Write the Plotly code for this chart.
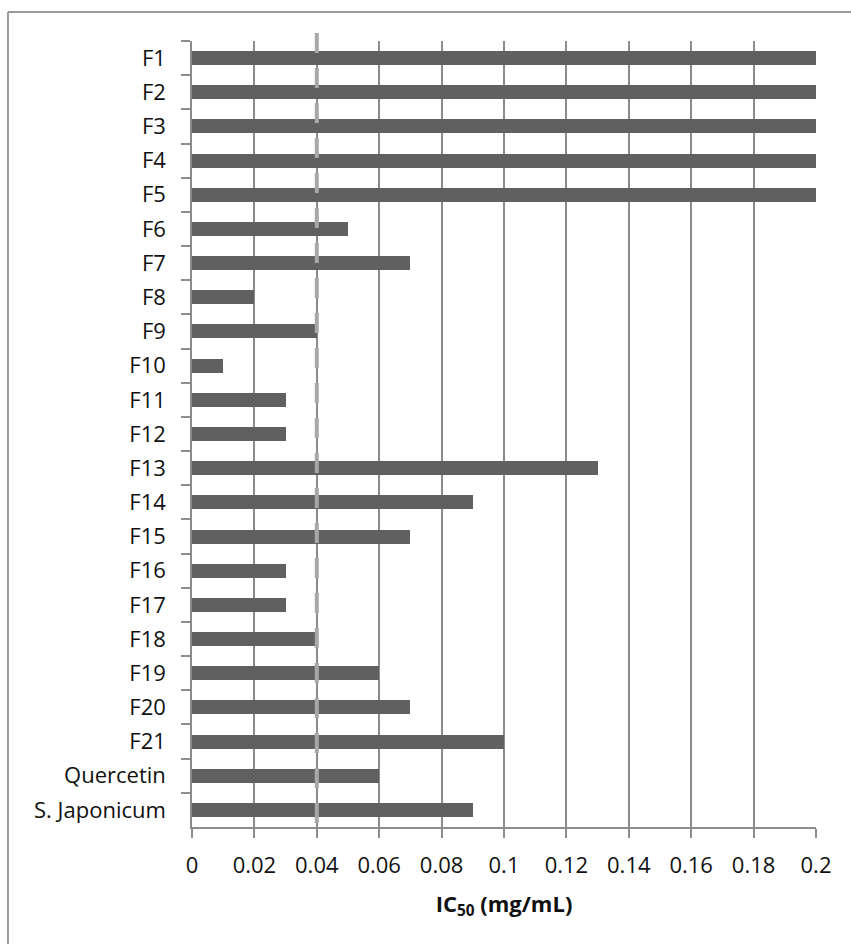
import plotly.graph_objects as go

categories = ["F1", "F2", "F3", "F4", "F5", "F6", "F7", "F8", "F9", "F10",
              "F11", "F12", "F13", "F14", "F15", "F16", "F17", "F18", "F19",
              "F20", "F21", "Quercetin", "S. Japonicum"]
ic50_values = [0.2, 0.2, 0.2, 0.2, 0.2, 0.05, 0.07, 0.02, 0.04, 0.01,
               0.03, 0.03, 0.13, 0.09, 0.07, 0.03, 0.03, 0.04, 0.06,
               0.07, 0.10, 0.06, 0.09]
reference_line = 0.04
x_tickvals = [0, 0.02, 0.04, 0.06, 0.08, 0.1, 0.12, 0.14, 0.16, 0.18, 0.2]
x_ticktext = ["0", "0.02", "0.04", "0.06", "0.08", "0.1", "0.12", "0.14", "0.16", "0.18", "0.2"]

FONT = "Open Sans"
fig = go.Figure()
fig.add_trace(go.Bar(
    x=ic50_values, y=categories, orientation="h",
    marker=dict(color="#606060", line=dict(width=0)),
    width=0.41,
))

# light gray dashed reference line
fig.add_shape(type="line", xref="x", yref="paper",
              x0=reference_line, x1=reference_line, y0=1.0102, y1=-0.014,
              line=dict(color="#a8a8a8", width=4, dash="20px,15px"), layer="above")

# outer chart border (only left and top edges fall inside the picture)
border = dict(color="#9a9a9a", width=2)
fig.add_shape(type="line", xref="paper", yref="paper",
              x0=-0.2949, x1=-0.2949, y0=1.0369, y1=-0.2, line=border, layer="below")
fig.add_shape(type="line", xref="paper", yref="paper",
              x0=-0.2949, x1=1.06, y0=1.0369, y1=1.0369, line=border, layer="below")

fig.update_layout(
    width=851, height=944,
    margin=dict(l=192, r=35, t=41, b=117),
    paper_bgcolor="white", plot_bgcolor="white",
    showlegend=False,
    bargap=0,
    font=dict(family=FONT, color="#111111"),
)
fig.update_xaxes(
    range=[0, 0.2], tickvals=x_tickvals, ticktext=x_ticktext,
    showgrid=True, gridcolor="#8c8c8c", gridwidth=1.5,
    zeroline=False,
    showline=True, linecolor="#8c8c8c", linewidth=1.5,
    ticks="outside", ticklen=9, tickcolor="#8c8c8c", tickwidth=1.5,
    tickfont=dict(family=FONT, size=22, color="#111111"),
    ticklabelstandoff=9,
    title=dict(text="<b>IC<sub>50</sub> (mg/mL)</b>", font=dict(family=FONT, size=22, color="#111111"),
               standoff=18),
)
fig.update_yaxes(
    type="category", categoryorder="array", categoryarray=categories,
    autorange="reversed",
    tickson="boundaries",
    showgrid=False, zeroline=False,
    showline=True, linecolor="#8c8c8c", linewidth=1.5,
    ticks="outside", ticklen=9, tickcolor="#8c8c8c", tickwidth=1.5,
    tickfont=dict(family=FONT, size=22, color="#111111"),
    ticklabelstandoff=20,
)

fig.write_html("out.html",
               config={"displayModeBar": False},
               post_script="document.body.style.margin='0';document.body.style.overflow='hidden';")
